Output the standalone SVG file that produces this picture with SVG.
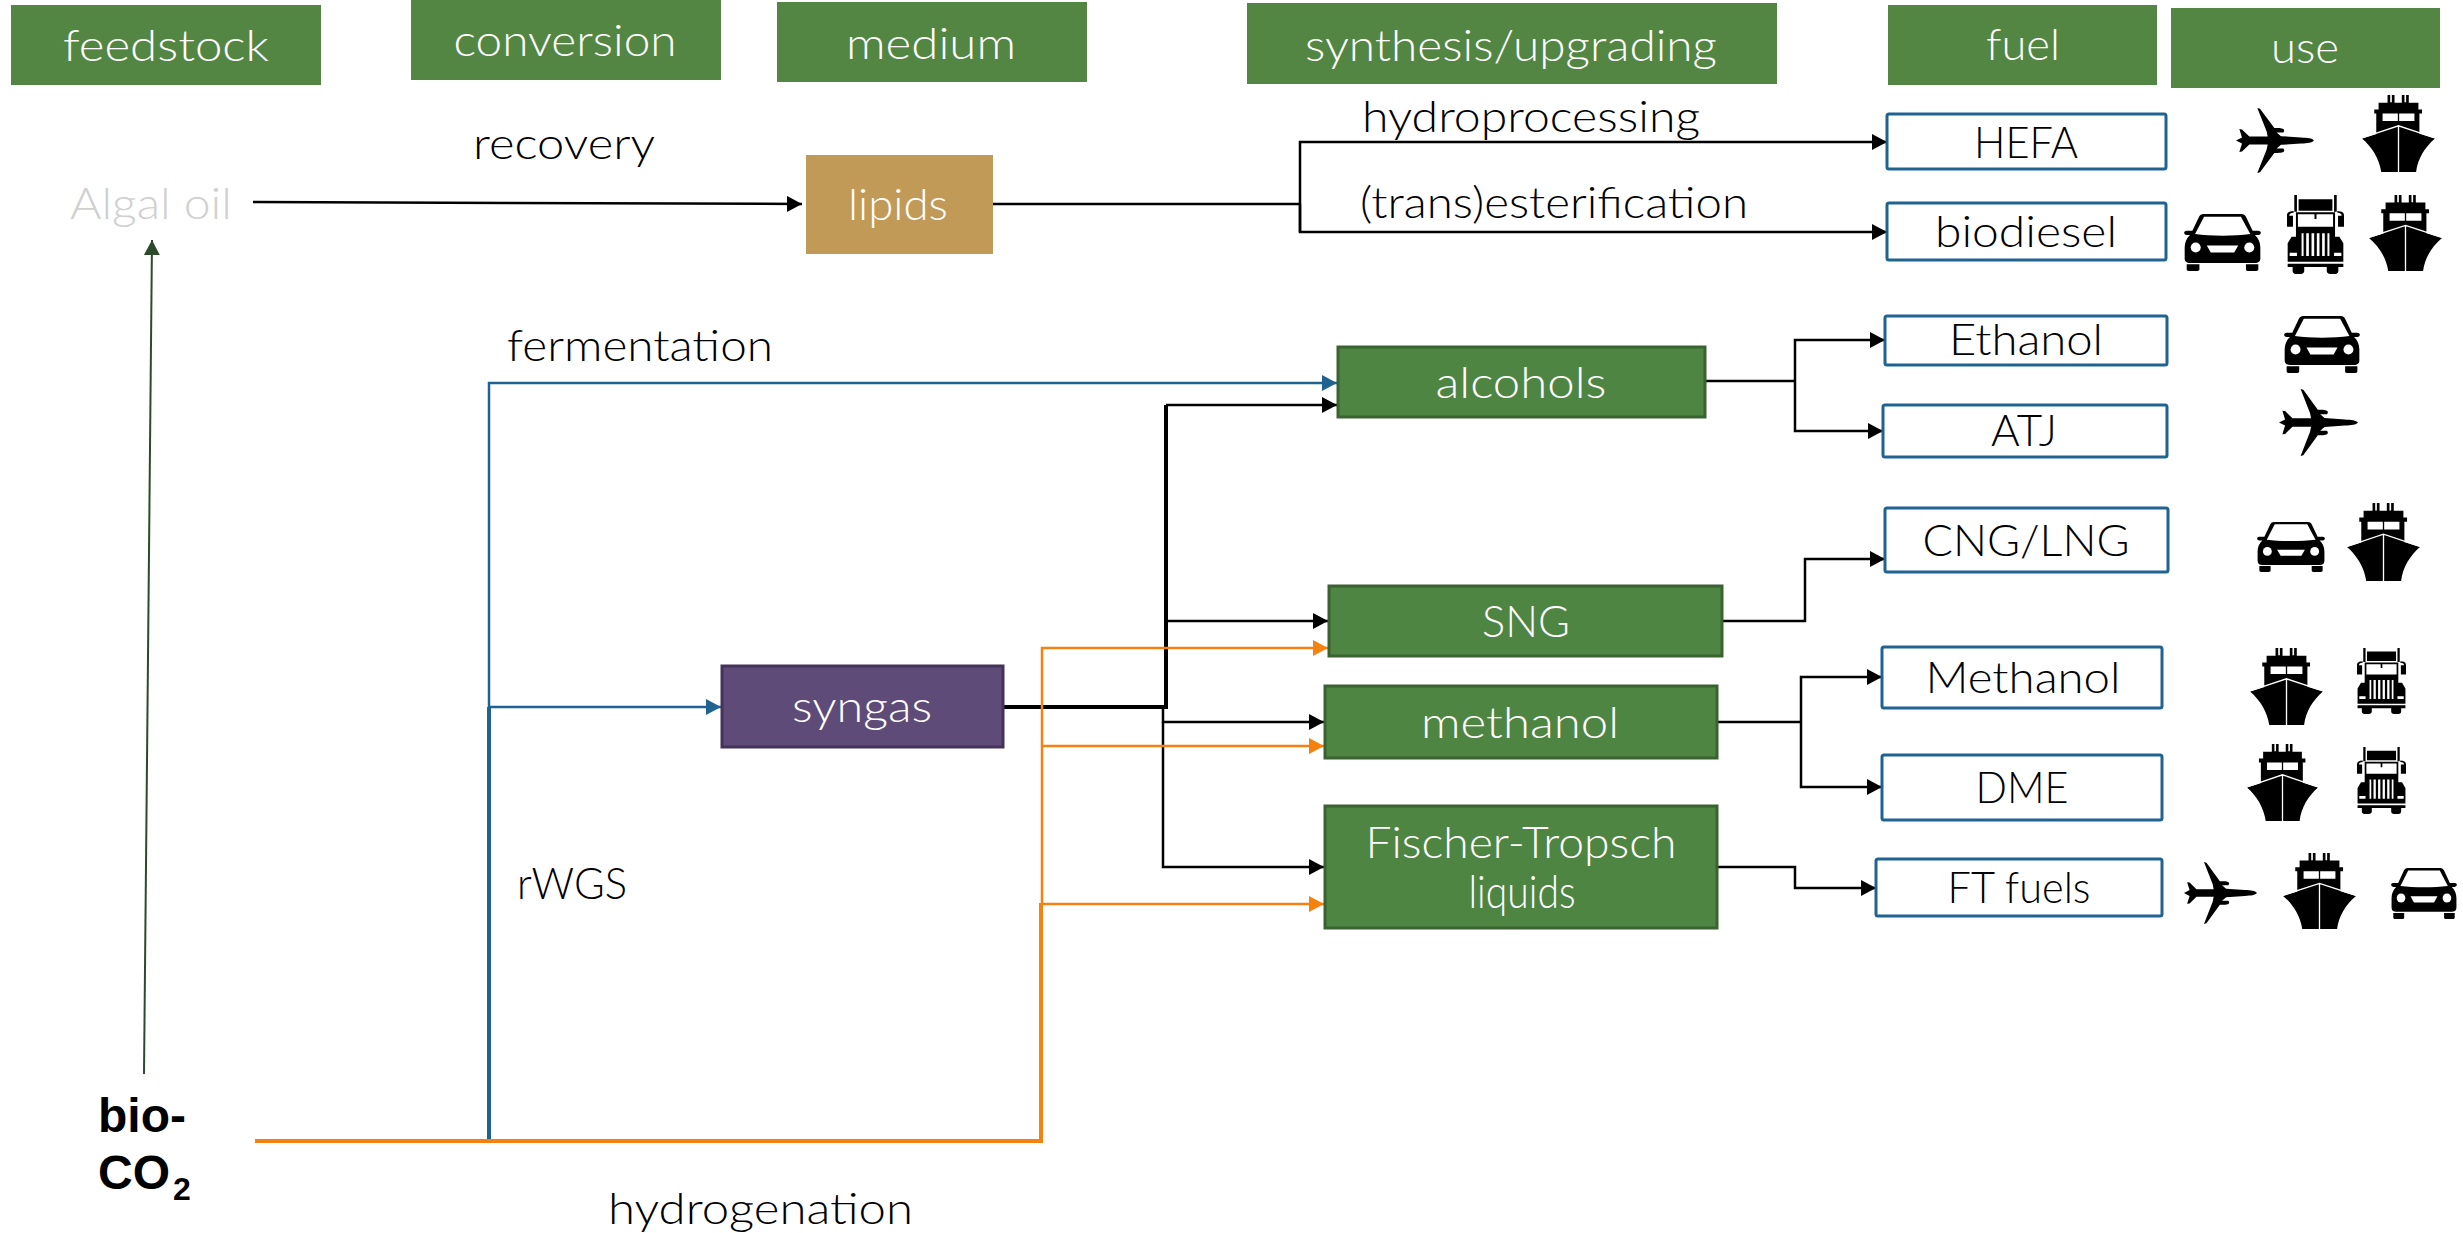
<svg xmlns="http://www.w3.org/2000/svg" xmlns:xlink="http://www.w3.org/1999/xlink" width="2463" height="1233" viewBox="0 0 2463 1233">
<style>
text{font-family:Lato,"Open Sans","Liberation Sans",sans-serif;font-size:43px;font-weight:300;fill:#000;text-anchor:middle}
.w{fill:#fff}
.lbl{text-anchor:start}
.hdr{fill:#528642}
.grn{fill:#4F8542;stroke:#3A6331;stroke-width:3}
.fuel{fill:#fff;stroke:#1F6391;stroke-width:3}
.k,.b,.o,.g{fill:none}
.k{stroke:#000;stroke-width:2.5}
.b{stroke:#1F6391;stroke-width:2.5}
.o{stroke:#F58210;stroke-width:2.5}
.g{stroke:#2D4A2A;stroke-width:2}
.thick{stroke-width:4}
.bold{font-family:"Liberation Sans",Arial,sans-serif;font-weight:700;font-size:48px;text-anchor:start}
</style>
<defs>
<marker id="ak" markerUnits="userSpaceOnUse" markerWidth="16" markerHeight="16" refX="15" refY="8" orient="auto"><path d="M0,0L15,8L0,16Z" fill="#000"/></marker>
<marker id="ab" markerUnits="userSpaceOnUse" markerWidth="16" markerHeight="16" refX="15" refY="8" orient="auto"><path d="M0,0L15,8L0,16Z" fill="#1F6391"/></marker>
<marker id="ao" markerUnits="userSpaceOnUse" markerWidth="16" markerHeight="16" refX="15" refY="8" orient="auto"><path d="M0,0L15,8L0,16Z" fill="#F58210"/></marker>
<marker id="ag" markerUnits="userSpaceOnUse" markerWidth="16" markerHeight="16" refX="15" refY="8" orient="auto"><path d="M0,0L15,8L0,16Z" fill="#2D4A2A"/></marker>
<symbol id="ship" viewBox="0 0 220 230" preserveAspectRatio="none">
<path d="M77,0h8v22h5v-22h8v23h22v-23h8v22h5v-22h8v23h29v20h11v12h-8v62h-130v-62h-6v-12h13v-20h27z"/>
<path d="M62,55h46v23h-46zM112,55h46v23h-46z" fill="#fff"/>
<path d="M110,96L220,130C190,155 168,190 163,230H58C52,190 30,155 0,130Z"/>
<path d="M0,128L110,92L220,128M110,92V230" fill="none" stroke="#fff" stroke-width="4"/>
</symbol>
<symbol id="plane" viewBox="0 0 234 194" preserveAspectRatio="none">
<path d="M234,97C228,90 215,89 195,88L135,84L122,73H142C148,66 145,60 125,60H115L72,2L64,0L92,70L95,85H40L18,64L10,63L18,88L0,97L18,106L10,131L18,130L40,109H95L92,124L64,194L72,192L115,134H125C145,134 148,128 142,121H122L135,110L195,106C215,105 228,104 234,97Z"/>
</symbol>
<symbol id="car" viewBox="0 0 230 170" preserveAspectRatio="none">
<path d="M58,0H172C178,0 182,3 185,8L205,50H222C232,50 232,62 222,63H212C222,72 228,85 228,100V132C228,142 222,146 212,146H18C8,146 2,142 2,132V100C2,85 8,72 18,63H8C-2,62 -2,50 8,50H25L45,8C48,3 52,0 58,0Z"/>
<path d="M60,8H170L198,60C150,66 80,66 33,60Z" fill="#fff"/>
<circle cx="35" cy="100" r="15" fill="#fff"/><circle cx="195" cy="100" r="15" fill="#fff"/>
<path d="M68,94H162L150,115H80Z" fill="#fff"/>
<path d="M8,150H46V165C46,168 44,170 40,170H14C10,170 8,168 8,165ZM185,150H222V165C222,168 220,170 216,170H190C187,170 185,168 185,165Z"/>
</symbol>
<symbol id="truck" viewBox="0 0 172 237" preserveAspectRatio="none">
<path d="M22,0H30V50H22ZM142,0H150V50H142ZM35,13H137V47H35ZM27,52H145V130H27ZM0,62C0,52 6,49 20,48V53C10,54 7,56 7,62H18V95H0ZM172,62C172,52 166,49 152,48V53C162,54 165,56 165,62H154V95H172ZM14,125H158L170,145V200H2V145ZM2,206H170V216H155V228C155,233 151,237 146,237H130C124,237 120,233 120,228V216H52V228C52,233 48,237 42,237H26C21,237 17,233 17,228V216H2Z"/>
<path d="M33,58H83V72H89V58H139V95H33ZM44,115H50V183H44ZM58,115H66V183H58ZM74,115H82V183H74ZM90,115H98V183H90ZM106,115H114V183H106ZM122,115H128V183H122ZM8,173H30V183H8ZM142,173H164V183H142Z" fill="#fff"/>
</symbol>
</defs>
<rect width="2463" height="1233" fill="#fff"/>

<g id="connectors">
<path class="k" marker-end="url(#ak)" d="M253,202L802,204"/>
<path class="g" marker-end="url(#ag)" d="M144,1074L152,240"/>
<path class="k" d="M993,204H1300"/>
<path class="k" marker-end="url(#ak)" d="M1300,232V142H1887"/>
<path class="k" marker-end="url(#ak)" d="M1300,204V232H1887"/>
<path class="b" marker-end="url(#ab)" d="M489,707V383H1337"/>
<path class="b thick" d="M489,1141V707"/>
<path class="b" marker-end="url(#ab)" d="M489,707H721"/>
<path class="k thick" d="M1004,707H1166V405"/>
<path class="k" marker-end="url(#ak)" d="M1166,405H1337"/>
<path class="k" marker-end="url(#ak)" d="M1166,621H1328"/>
<path class="k" marker-end="url(#ak)" d="M1163,707V722H1324"/>
<path class="k" marker-end="url(#ak)" d="M1163,722V867H1324"/>
<path class="o thick" d="M255,1141H1041V903"/>
<path class="o" marker-end="url(#ao)" d="M1042,904V648H1328"/>
<path class="o" marker-end="url(#ao)" d="M1042,746H1324"/>
<path class="o" marker-end="url(#ao)" d="M1041,904H1324"/>
<path class="k" d="M1706,381H1795"/>
<path class="k" marker-end="url(#ak)" d="M1795,381V340H1885"/>
<path class="k" marker-end="url(#ak)" d="M1795,381V431H1883"/>
<path class="k" marker-end="url(#ak)" d="M1723,621H1805V559H1885"/>
<path class="k" d="M1718,722H1801"/>
<path class="k" marker-end="url(#ak)" d="M1801,722V677H1882"/>
<path class="k" marker-end="url(#ak)" d="M1801,722V787H1882"/>
<path class="k" marker-end="url(#ak)" d="M1718,867H1795V888H1876"/>
</g>

<g id="hdr-feedstock"><rect class="hdr" x="11" y="5" width="310" height="80"/><text class="w" x="166" y="61" textLength="206" lengthAdjust="spacingAndGlyphs">feedstock</text></g>
<g id="hdr-conversion"><rect class="hdr" x="411" y="0" width="310" height="80"/><text class="w" x="565" y="56" textLength="223" lengthAdjust="spacingAndGlyphs">conversion</text></g>
<g id="hdr-medium"><rect class="hdr" x="777" y="2" width="310" height="80"/><text class="w" x="931" y="59" textLength="170" lengthAdjust="spacingAndGlyphs">medium</text></g>
<g id="hdr-synthesis"><rect class="hdr" x="1247" y="3" width="530" height="81"/><text class="w" x="1511" y="61" textLength="412" lengthAdjust="spacingAndGlyphs">synthesis/upgrading</text></g>
<g id="hdr-fuel"><rect class="hdr" x="1888" y="5" width="269" height="80"/><text class="w" x="2023" y="60" textLength="74" lengthAdjust="spacingAndGlyphs">fuel</text></g>
<g id="hdr-use"><rect class="hdr" x="2171" y="8" width="269" height="80"/><text class="w" x="2305" y="63" textLength="68" lengthAdjust="spacingAndGlyphs">use</text></g>

<g id="algal-oil"><text x="151" y="219" style="fill:#D0D0D0" textLength="162" lengthAdjust="spacingAndGlyphs">Algal oil</text></g>
<g id="bio-co2"><text class="bold" x="98" y="1132">bio-</text><text class="bold" x="98" y="1189">CO</text><text class="bold" x="173" y="1200" style="font-size:32px">2</text></g>
<g id="lipids"><rect x="806" y="155" width="187" height="99" fill="#C19A58"/><text class="w" x="898" y="220" textLength="100" lengthAdjust="spacingAndGlyphs">lipids</text></g>
<g id="syngas"><rect x="722" y="666" width="281" height="81" fill="#5F4B78" stroke="#44325A" stroke-width="3"/><text class="w" x="862" y="722" textLength="140" lengthAdjust="spacingAndGlyphs">syngas</text></g>
<g id="alcohols"><rect class="grn" x="1338" y="347" width="367" height="70"/><text class="w" x="1521" y="398" textLength="171" lengthAdjust="spacingAndGlyphs">alcohols</text></g>
<g id="sng"><rect class="grn" x="1329" y="586" width="393" height="70"/><text class="w" x="1526" y="637" textLength="88" lengthAdjust="spacingAndGlyphs">SNG</text></g>
<g id="methanol"><rect class="grn" x="1325" y="686" width="392" height="72"/><text class="w" x="1520" y="738" textLength="198" lengthAdjust="spacingAndGlyphs">methanol</text></g>
<g id="ft-liquids"><rect class="grn" x="1325" y="806" width="392" height="122"/><text class="w" x="1521" y="858" textLength="311" lengthAdjust="spacingAndGlyphs">Fischer-Tropsch</text><text class="w" x="1522" y="908" textLength="107" lengthAdjust="spacingAndGlyphs" style="font-size:45px">liquids</text></g>

<g id="fuel-hefa"><rect class="fuel" x="1887" y="114" width="279" height="55" rx="2"/><text x="2026" y="158" textLength="104" lengthAdjust="spacingAndGlyphs">HEFA</text></g>
<g id="fuel-biodiesel"><rect class="fuel" x="1887" y="203" width="279" height="57" rx="2"/><text x="2026" y="247" textLength="182" lengthAdjust="spacingAndGlyphs">biodiesel</text></g>
<g id="fuel-ethanol"><rect class="fuel" x="1885" y="316" width="282" height="49" rx="2"/><text x="2026" y="355" textLength="154" lengthAdjust="spacingAndGlyphs">Ethanol</text></g>
<g id="fuel-atj"><rect class="fuel" x="1883" y="405" width="284" height="52" rx="2"/><text x="2024" y="446" textLength="66" lengthAdjust="spacingAndGlyphs">ATJ</text></g>
<g id="fuel-cng"><rect class="fuel" x="1885" y="508" width="283" height="64" rx="2"/><text x="2026" y="556" textLength="207" lengthAdjust="spacingAndGlyphs">CNG/LNG</text></g>
<g id="fuel-methanol"><rect class="fuel" x="1882" y="647" width="280" height="61" rx="2"/><text x="2023" y="693" textLength="195" lengthAdjust="spacingAndGlyphs">Methanol</text></g>
<g id="fuel-dme"><rect class="fuel" x="1882" y="755" width="280" height="65" rx="2"/><text x="2022" y="803" textLength="93" lengthAdjust="spacingAndGlyphs">DME</text></g>
<g id="fuel-ft"><rect class="fuel" x="1876" y="859" width="286" height="57" rx="2"/><text x="2019" y="903" textLength="143" lengthAdjust="spacingAndGlyphs">FT fuels</text></g>

<g id="labels">
<text class="lbl" x="473" y="159" textLength="182" lengthAdjust="spacingAndGlyphs">recovery</text>
<text class="lbl" x="1362" y="132" textLength="338" lengthAdjust="spacingAndGlyphs">hydroprocessing</text>
<text class="lbl" x="1360" y="218" textLength="388" lengthAdjust="spacingAndGlyphs">(trans)esterification</text>
<text class="lbl" x="507" y="361" textLength="266" lengthAdjust="spacingAndGlyphs">fermentation</text>
<text class="lbl" x="517" y="899" textLength="110" lengthAdjust="spacingAndGlyphs">rWGS</text>
<text class="lbl" x="608" y="1224" textLength="305" lengthAdjust="spacingAndGlyphs">hydrogenation</text>
</g>

<g id="use-icons">
<use href="#plane" x="2236" y="108" width="78" height="65"/>
<use href="#ship" x="2362" y="95" width="73" height="77"/>
<use href="#car" x="2184" y="214" width="77" height="57"/>
<use href="#truck" x="2287" y="195" width="57" height="79"/>
<use href="#ship" x="2369" y="195" width="73" height="76"/>
<use href="#car" x="2284" y="316" width="76" height="57"/>
<use href="#plane" x="2279" y="389" width="79" height="67"/>
<use href="#car" x="2257" y="522" width="68" height="50"/>
<use href="#ship" x="2347" y="503" width="73" height="78"/>
<use href="#ship" x="2250" y="648" width="73" height="77"/>
<use href="#truck" x="2357" y="648" width="49" height="66"/>
<use href="#ship" x="2247" y="744" width="71" height="77"/>
<use href="#truck" x="2357" y="747" width="49" height="67"/>
<use href="#plane" x="2184" y="862" width="73" height="62"/>
<use href="#ship" x="2283" y="853" width="73" height="76"/>
<use href="#car" x="2391" y="868" width="66" height="51"/>
</g>
</svg>
